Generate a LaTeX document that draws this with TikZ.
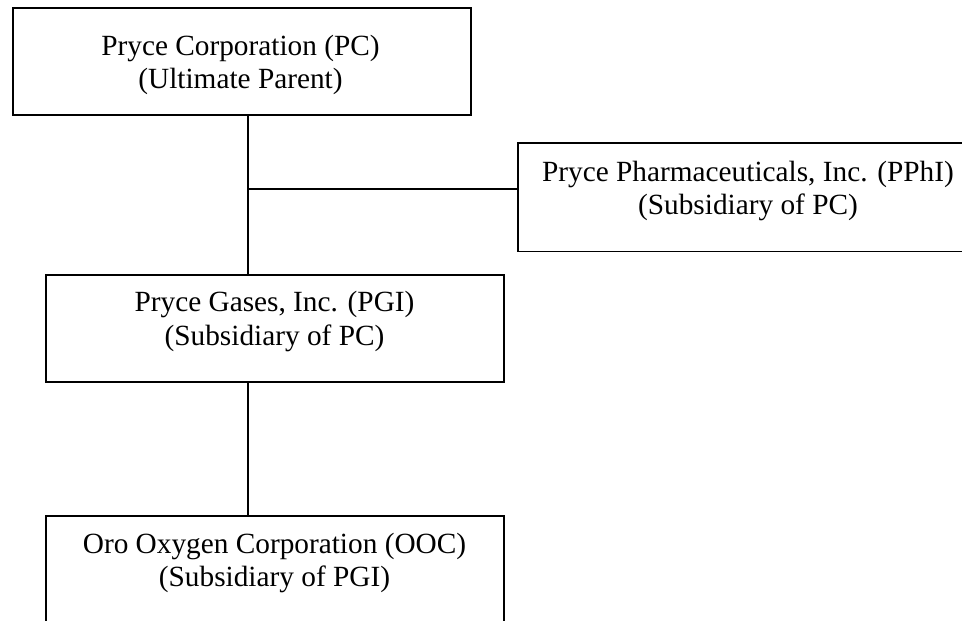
\documentclass[tikz,border=0pt]{standalone}
\usepackage{fontspec}
\setmainfont{Liberation Serif}
\begin{document}
\begin{tikzpicture}[x=1pt,y=-1pt,
  box/.style={draw=black,line width=1.8pt,fill=white},
  conn/.style={draw=black,line width=1.8pt},
  lbl/.style={anchor=base,inner sep=0pt,font=\fontsize{29.3}{34}\selectfont}]
\useasboundingbox (0,0) rectangle (962,621);
\clip (0,0) rectangle (962,621);
% boxes
\path[box] (13,8) rectangle (471,115);
\coordinate (pcS) at (248,115);
\path[box] (518,143) rectangle (990,251.5);
\coordinate (pphiW) at (518,189);
\path[box] (45.7,274.7) rectangle (504,381.7);
\coordinate (pgiN) at (248,274.7);
\coordinate (pgiS) at (248,381.7);
\path[box] (45.7,515.7) rectangle (504,660);
\coordinate (oocN) at (248,515.7);
\coordinate (jn) at (248,189);
% connectors
\draw[conn] (pcS) -- (pgiN);
\draw[conn] (jn) -- (pphiW);
\draw[conn] (pgiS) -- (oocN);
% labels
\node[lbl] (pc1) at (240.5,55) {Pryce Corporation (PC)};
\node[lbl] (pc2) at (240.5,88) {(Ultimate Parent)};
\node[lbl] (pphi1) at (748,181.5) {Pryce Pharmaceuticals, Inc. (PPhI)};
\node[lbl] (pphi2) at (748,214.5) {(Subsidiary of PC)};
\node[lbl] (pgi1) at (274.5,311.7) {Pryce Gases, Inc. (PGI)};
\node[lbl] (pgi2) at (274.5,345) {(Subsidiary of PC)};
\node[lbl] (ooc1) at (274.5,553) {Oro Oxygen Corporation (OOC)};
\node[lbl] (ooc2) at (274.5,586.5) {(Subsidiary of PGI)};
\end{tikzpicture}
\end{document}
